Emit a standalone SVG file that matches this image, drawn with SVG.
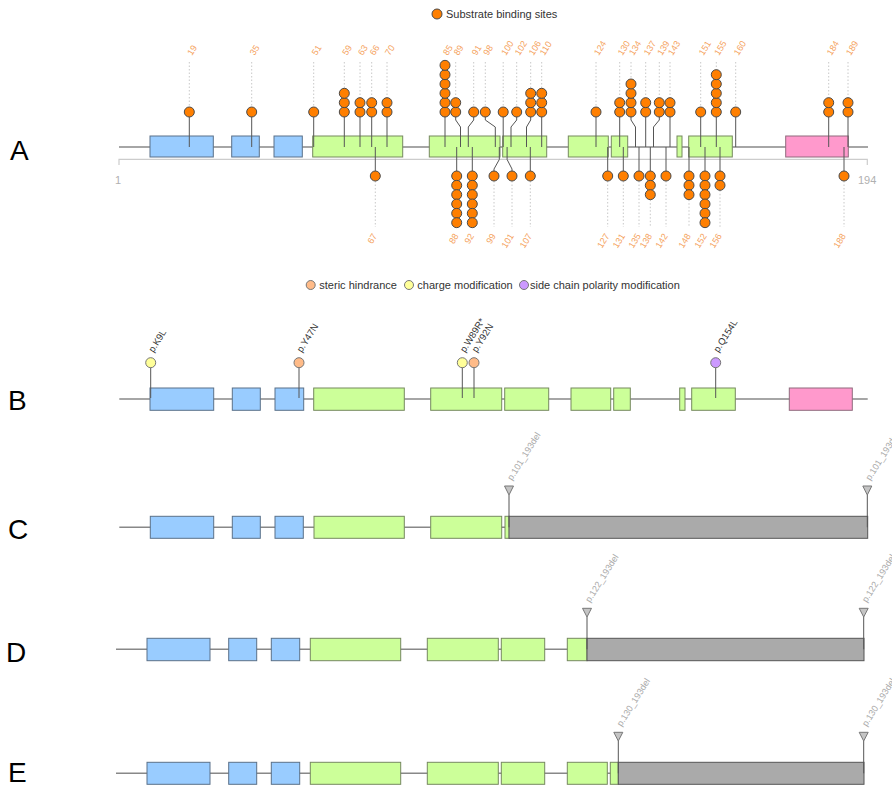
<svg xmlns="http://www.w3.org/2000/svg" width="892" height="787" viewBox="0 0 892 787">
<style>
text{font-family:"Liberation Sans",Arial,sans-serif}
.bb{stroke:#888;stroke-width:1.4;fill:none}
.ax{stroke:#ccc;stroke-width:1.2;fill:none}
.b{fill:#99ccff;stroke:#5b7189;stroke-width:1}
.g{fill:#ccff99;stroke:#76895f;stroke-width:1}
.p{fill:#ff99cc;stroke:#8f6b7d;stroke-width:1}
.x{fill:#aaaaaa;stroke:#555;stroke-width:1}
.st{stroke:#555;stroke-width:1;fill:none}
.dt{stroke:#c8c8c8;stroke-width:1;stroke-dasharray:1.5,2;fill:none}
.o{fill:#ff7f00;stroke:#4a4a4a;stroke-width:1}
.ol{fill:#f5a25d;font-size:9px}
.lg{fill:#333;font-size:11px}
.pl{fill:#333;font-size:9.5px}
.dl{fill:#aaa;font-size:9px}
.yel{fill:#ffff99;stroke:#777;stroke-width:1}
.ora{fill:#ffbb88;stroke:#777;stroke-width:1}
.pur{fill:#cc99ff;stroke:#777;stroke-width:1}
.tri{fill:#c4c4c4;stroke:#777;stroke-width:1}
.big{font-size:28px;fill:#000}
.gr{fill:#b0b0b0;font-size:11px}
</style>

<!-- panel letters -->
<g id="letters">
<text class="big" x="10" y="160">A</text>
<text class="big" x="8" y="410">B</text>
<text class="big" x="8" y="539">C</text>
<text class="big" x="6" y="662">D</text>
<text class="big" x="8" y="782">E</text>
</g>

<!-- legends -->
<g id="legendA">
<circle class="o" cx="437" cy="14" r="5"/>
<text class="lg" x="446" y="18">Substrate binding sites</text>
</g>
<g id="legendB">
<circle class="ora" cx="310.7" cy="285" r="4.5"/>
<text class="lg" x="319.3" y="289">steric hindrance</text>
<circle class="yel" cx="409" cy="285" r="4.5"/>
<text class="lg" x="417.3" y="289">charge modification</text>
<circle class="pur" cx="524" cy="285" r="4.5"/>
<text class="lg" x="530" y="289">side chain polarity modification</text>
</g>

<!-- ===== Panel A ===== -->
<g id="A-backbone">
<line class="bb" x1="119" y1="147" x2="868" y2="147"/>
<path class="ax" d="M119 165V159.3H867.3V165"/>
<text class="gr" x="115" y="184">1</text>
<text class="gr" x="858" y="184">194</text>
</g>
<g id="A-domains">
<g id="A-d1"><rect class="b" x="150" y="136" width="63.3" height="21"/></g>
<g id="A-d2"><rect class="b" x="231.7" y="136" width="27.6" height="21"/></g>
<g id="A-d3"><rect class="b" x="274" y="136" width="28.3" height="21"/></g>
<g id="A-d4"><rect class="g" x="312.7" y="136" width="90" height="21"/></g>
<g id="A-d5"><rect class="g" x="429.3" y="136" width="70.7" height="21"/></g>
<g id="A-d6"><rect class="g" x="502.7" y="136" width="44" height="21"/></g>
<g id="A-d7"><rect class="g" x="568.3" y="136" width="40" height="21"/></g>
<g id="A-d8"><rect class="g" x="611.3" y="136" width="16.4" height="21"/></g>
<g id="A-d9"><rect class="g" x="677" y="136" width="5" height="21"/></g>
<g id="A-d10"><rect class="g" x="688.7" y="136" width="43.6" height="21"/></g>
<g id="A-d11"><rect class="p" x="785.7" y="136" width="62.6" height="21"/></g>
</g>

<g id="A-connectors">
<path class="st" d="M189.3 112V147M251.7 112V147M313.7 112V147M344.3 112V147M360 112V147M371.7 112V147M387 112V147M445 112V147
M455.7 112V120L460.5 127V147M473.7 112V120L468.3 127V147M485.3 112V120L495.3 127V147M503.2 112V147M516.7 112V120L511 127V147
M530.7 112V120L526.5 127V147M541.7 112V147M596 112V147M619.7 112V147M631 112V120L635.5 127V147M645.7 112V147M659.3 112V120L653.5 127V147
M670 112V147M700.7 112V147M716.3 112V147M735.7 112V147M828.7 112V147M848 112V147"/>
<path class="st" d="M375.3 147V176M456.7 147V176M472.3 147V176M499.3 147V159.5L494 169V176M507.1 147V159.5L512 169V176M530.3 147V176
M607.7 147V176M623.3 147V176M639 147V176M650.3 147V176M666 147V176M689 147V176M705 147V176M720 147V176M844 147V176"/>
<path class="dt" d="M189.3 62V107M251.7 62V107M313.7 62V107M344.3 62V88.3M360 62V97.7M371.7 62V97.7M387 62V97.7M455.7 62V97.7
M473.7 62V107M485.3 62V107M503.2 62V107M516.7 62V107M530.7 62V88.3M541.7 62V88.3M596 62V107M619.7 62V97.7M631 62V79M645.7 62V97.7
M659.3 62V97.7M670 62V97.7M700.7 62V107M716.3 62V69.7M735.7 62V107M828.7 62V97.7M848 62V97.7"/>
<path class="dt" d="M375.3 181V227M494 181V227M512 181V227M530.3 181V227M607.7 181V227M623.3 181V227M639 181V227M650.3 199.7V227
M666 181V227M689 199.7V227M720 190.3V227M844 181V227"/>
</g>

<g id="A-sites-top">
<g id="s19"><circle class="o" cx="189.3" cy="112" r="5"/><text class="ol" transform="translate(192,56) rotate(-58)">19</text></g>
<g id="s35"><circle class="o" cx="251.7" cy="112" r="5"/><text class="ol" transform="translate(254.5,56) rotate(-58)">35</text></g>
<g id="s51"><circle class="o" cx="313.7" cy="112" r="5"/><text class="ol" transform="translate(316.5,56) rotate(-58)">51</text></g>
<g id="s59"><circle class="o" cx="344.3" cy="112" r="5"/><circle class="o" cx="344.3" cy="102.67" r="5"/><circle class="o" cx="344.3" cy="93.33" r="5"/><text class="ol" transform="translate(347,56) rotate(-58)">59</text></g>
<g id="s63"><circle class="o" cx="360" cy="112" r="5"/><circle class="o" cx="360" cy="102.67" r="5"/><text class="ol" transform="translate(362.8,56) rotate(-58)">63</text></g>
<g id="s66"><circle class="o" cx="371.7" cy="112" r="5"/><circle class="o" cx="371.7" cy="102.67" r="5"/><text class="ol" transform="translate(374.5,56) rotate(-58)">66</text></g>
<g id="s70"><circle class="o" cx="387" cy="112" r="5"/><circle class="o" cx="387" cy="102.67" r="5"/><text class="ol" transform="translate(389.8,56) rotate(-58)">70</text></g>
<g id="s85"><circle class="o" cx="445" cy="112" r="5"/><circle class="o" cx="445" cy="102.67" r="5"/><circle class="o" cx="445" cy="93.33" r="5"/><circle class="o" cx="445" cy="84" r="5"/><circle class="o" cx="445" cy="74.67" r="5"/><circle class="o" cx="445" cy="65.33" r="5"/><text class="ol" transform="translate(447.8,56) rotate(-58)">85</text></g>
<g id="s89"><circle class="o" cx="455.7" cy="112" r="5"/><circle class="o" cx="455.7" cy="102.67" r="5"/><text class="ol" transform="translate(458.5,56) rotate(-58)">89</text></g>
<g id="s91"><circle class="o" cx="473.7" cy="112" r="5"/><text class="ol" transform="translate(476.5,56) rotate(-58)">91</text></g>
<g id="s98"><circle class="o" cx="485.3" cy="112" r="5"/><text class="ol" transform="translate(488,56) rotate(-58)">98</text></g>
<g id="s100"><circle class="o" cx="503.2" cy="112" r="5"/><text class="ol" transform="translate(506,56) rotate(-58)">100</text></g>
<g id="s102"><circle class="o" cx="516.7" cy="112" r="5"/><text class="ol" transform="translate(519.5,56) rotate(-58)">102</text></g>
<g id="s106"><circle class="o" cx="530.7" cy="112" r="5"/><circle class="o" cx="530.7" cy="102.67" r="5"/><circle class="o" cx="530.7" cy="93.33" r="5"/><text class="ol" transform="translate(533.5,56) rotate(-58)">106</text></g>
<g id="s110"><circle class="o" cx="541.7" cy="112" r="5"/><circle class="o" cx="541.7" cy="102.67" r="5"/><circle class="o" cx="541.7" cy="93.33" r="5"/><text class="ol" transform="translate(544.5,56) rotate(-58)">110</text></g>
<g id="s124"><circle class="o" cx="596" cy="112" r="5"/><text class="ol" transform="translate(598.8,56) rotate(-58)">124</text></g>
<g id="s130"><circle class="o" cx="619.7" cy="112" r="5"/><circle class="o" cx="619.7" cy="102.67" r="5"/><text class="ol" transform="translate(622.5,56) rotate(-58)">130</text></g>
<g id="s134"><circle class="o" cx="631" cy="112" r="5"/><circle class="o" cx="631" cy="102.67" r="5"/><circle class="o" cx="631" cy="93.33" r="5"/><circle class="o" cx="631" cy="84" r="5"/><text class="ol" transform="translate(633.8,56) rotate(-58)">134</text></g>
<g id="s137"><circle class="o" cx="645.7" cy="112" r="5"/><circle class="o" cx="645.7" cy="102.67" r="5"/><text class="ol" transform="translate(648.5,56) rotate(-58)">137</text></g>
<g id="s139"><circle class="o" cx="659.3" cy="112" r="5"/><circle class="o" cx="659.3" cy="102.67" r="5"/><text class="ol" transform="translate(662,56) rotate(-58)">139</text></g>
<g id="s143"><circle class="o" cx="670" cy="112" r="5"/><circle class="o" cx="670" cy="102.67" r="5"/><text class="ol" transform="translate(672.8,56) rotate(-58)">143</text></g>
<g id="s151"><circle class="o" cx="700.7" cy="112" r="5"/><text class="ol" transform="translate(703.5,56) rotate(-58)">151</text></g>
<g id="s155"><circle class="o" cx="716.3" cy="112" r="5"/><circle class="o" cx="716.3" cy="102.67" r="5"/><circle class="o" cx="716.3" cy="93.33" r="5"/><circle class="o" cx="716.3" cy="84" r="5"/><circle class="o" cx="716.3" cy="74.67" r="5"/><text class="ol" transform="translate(719,56) rotate(-58)">155</text></g>
<g id="s160"><circle class="o" cx="735.7" cy="112" r="5"/><text class="ol" transform="translate(738.5,56) rotate(-58)">160</text></g>
<g id="s184"><circle class="o" cx="828.7" cy="112" r="5"/><circle class="o" cx="828.7" cy="102.67" r="5"/><text class="ol" transform="translate(831.5,56) rotate(-58)">184</text></g>
<g id="s189"><circle class="o" cx="848" cy="112" r="5"/><circle class="o" cx="848" cy="102.67" r="5"/><text class="ol" transform="translate(850.8,56) rotate(-58)">189</text></g>
</g>

<g id="A-sites-bottom">
<g id="s67"><circle class="o" cx="375.3" cy="176" r="5"/><text class="ol" text-anchor="end" transform="translate(377.5,236) rotate(-58)">67</text></g>
<g id="s88"><circle class="o" cx="456.7" cy="176" r="5"/><circle class="o" cx="456.7" cy="185.33" r="5"/><circle class="o" cx="456.7" cy="194.67" r="5"/><circle class="o" cx="456.7" cy="204" r="5"/><circle class="o" cx="456.7" cy="213.33" r="5"/><circle class="o" cx="456.7" cy="222.67" r="5"/><text class="ol" text-anchor="end" transform="translate(459,236) rotate(-58)">88</text></g>
<g id="s92"><circle class="o" cx="472.3" cy="176" r="5"/><circle class="o" cx="472.3" cy="185.33" r="5"/><circle class="o" cx="472.3" cy="194.67" r="5"/><circle class="o" cx="472.3" cy="204" r="5"/><circle class="o" cx="472.3" cy="213.33" r="5"/><circle class="o" cx="472.3" cy="222.67" r="5"/><text class="ol" text-anchor="end" transform="translate(474.5,236) rotate(-58)">92</text></g>
<g id="s99"><circle class="o" cx="494" cy="176" r="5"/><text class="ol" text-anchor="end" transform="translate(496.2,236) rotate(-58)">99</text></g>
<g id="s101"><circle class="o" cx="512" cy="176" r="5"/><text class="ol" text-anchor="end" transform="translate(514.2,236) rotate(-58)">101</text></g>
<g id="s107"><circle class="o" cx="530.3" cy="176" r="5"/><text class="ol" text-anchor="end" transform="translate(532.5,236) rotate(-58)">107</text></g>
<g id="s127"><circle class="o" cx="607.7" cy="176" r="5"/><text class="ol" text-anchor="end" transform="translate(609.9,236) rotate(-58)">127</text></g>
<g id="s131"><circle class="o" cx="623.3" cy="176" r="5"/><text class="ol" text-anchor="end" transform="translate(625.5,236) rotate(-58)">131</text></g>
<g id="s135"><circle class="o" cx="639" cy="176" r="5"/><text class="ol" text-anchor="end" transform="translate(641.2,236) rotate(-58)">135</text></g>
<g id="s138"><circle class="o" cx="650.3" cy="176" r="5"/><circle class="o" cx="650.3" cy="185.33" r="5"/><circle class="o" cx="650.3" cy="194.67" r="5"/><text class="ol" text-anchor="end" transform="translate(652.5,236) rotate(-58)">138</text></g>
<g id="s142"><circle class="o" cx="666" cy="176" r="5"/><text class="ol" text-anchor="end" transform="translate(668.2,236) rotate(-58)">142</text></g>
<g id="s148"><circle class="o" cx="689" cy="176" r="5"/><circle class="o" cx="689" cy="185.33" r="5"/><circle class="o" cx="689" cy="194.67" r="5"/><text class="ol" text-anchor="end" transform="translate(691.2,236) rotate(-58)">148</text></g>
<g id="s152"><circle class="o" cx="705" cy="176" r="5"/><circle class="o" cx="705" cy="185.33" r="5"/><circle class="o" cx="705" cy="194.67" r="5"/><circle class="o" cx="705" cy="204" r="5"/><circle class="o" cx="705" cy="213.33" r="5"/><circle class="o" cx="705" cy="222.67" r="5"/><text class="ol" text-anchor="end" transform="translate(707.2,236) rotate(-58)">152</text></g>
<g id="s156"><circle class="o" cx="720" cy="176" r="5"/><circle class="o" cx="720" cy="185.33" r="5"/><text class="ol" text-anchor="end" transform="translate(722.2,236) rotate(-58)">156</text></g>
<g id="s188"><circle class="o" cx="844" cy="176" r="5"/><text class="ol" text-anchor="end" transform="translate(846.2,236) rotate(-58)">188</text></g>
</g>

<!-- ===== Panel B ===== -->
<g id="B-backbone"><line class="bb" x1="119.3" y1="399" x2="867.7" y2="399"/></g>
<g id="B-domains">
<g id="B-d1"><rect class="b" x="150" y="388" width="63.7" height="22.3"/></g>
<g id="B-d2"><rect class="b" x="232.3" y="388" width="28" height="22.3"/></g>
<g id="B-d3"><rect class="b" x="275" y="388" width="28.7" height="22.3"/></g>
<g id="B-d4"><rect class="g" x="313.7" y="388" width="90.6" height="22.3"/></g>
<g id="B-d5"><rect class="g" x="430.7" y="388" width="71" height="22.3"/></g>
<g id="B-d6"><rect class="g" x="504.7" y="388" width="44" height="22.3"/></g>
<g id="B-d7"><rect class="g" x="571" y="388" width="39.7" height="22.3"/></g>
<g id="B-d8"><rect class="g" x="613.7" y="388" width="16.6" height="22.3"/></g>
<g id="B-d9"><rect class="g" x="679.7" y="388" width="5.3" height="22.3"/></g>
<g id="B-d10"><rect class="g" x="691.7" y="388" width="43.6" height="22.3"/></g>
<g id="B-d11"><rect class="p" x="789.3" y="388" width="63" height="22.3"/></g>
</g>
<g id="B-connectors">
<path class="st" d="M150.7 362.7V398M299 362.7V398M462.3 362.7V398M474 362.7V398M715.7 362.7V398"/>
</g>
<g id="B-variants">
<g id="vK9L"><circle class="yel" cx="150.7" cy="362.7" r="5"/><text class="pl" transform="translate(153.5,353) rotate(-58)">p.K9L</text></g>
<g id="vY47N"><circle class="ora" cx="299" cy="362.7" r="5"/><text class="pl" transform="translate(301.8,353) rotate(-58)">p.Y47N</text></g>
<g id="vW89R"><circle class="yel" cx="462.3" cy="362.7" r="5"/><text class="pl" transform="translate(465,353) rotate(-58)">p.W89R*</text></g>
<g id="vY92N"><circle class="ora" cx="474" cy="362.7" r="5"/><text class="pl" transform="translate(476.8,353) rotate(-58)">p.Y92N</text></g>
<g id="vQ154L"><circle class="pur" cx="715.7" cy="362.7" r="5"/><text class="pl" transform="translate(718.5,353) rotate(-58)">p.Q154L</text></g>
</g>

<!-- ===== Panel C ===== -->
<g id="C-backbone"><line class="bb" x1="119.3" y1="527.3" x2="509" y2="527.3"/></g>
<g id="C-domains">
<g id="C-d1"><rect class="b" x="150.3" y="516.3" width="63.4" height="22"/></g>
<g id="C-d2"><rect class="b" x="232.3" y="516.3" width="28" height="22"/></g>
<g id="C-d3"><rect class="b" x="275" y="516.3" width="28.3" height="22"/></g>
<g id="C-d4"><rect class="g" x="314" y="516.3" width="90.3" height="22"/></g>
<g id="C-d5"><rect class="g" x="430.7" y="516.3" width="71" height="22"/></g>
<g id="C-d6"><rect class="g" x="505" y="516.3" width="4.3" height="22"/></g>
<g id="C-del"><rect class="x" x="509" y="516.3" width="358.7" height="22"/></g>
</g>
<g id="C-connectors">
<path class="st" d="M509 495V527.3M867.3 495V527.3"/>
</g>
<g id="C-markers">
<g id="C-m1"><polygon class="tri" points="504.5,486 513.5,486 509,495"/><text class="dl" transform="translate(512,481) rotate(-58)">p.101_193del</text></g>
<g id="C-m2"><polygon class="tri" points="862.8,486 871.8,486 867.3,495"/><text class="dl" transform="translate(870.3,481) rotate(-58)">p.101_193del</text></g>
</g>

<!-- ===== Panel D ===== -->
<g id="D-backbone"><line class="bb" x1="116" y1="649.3" x2="587" y2="649.3"/></g>
<g id="D-domains">
<g id="D-d1"><rect class="b" x="147" y="638.3" width="63" height="22.4"/></g>
<g id="D-d2"><rect class="b" x="228.7" y="638.3" width="28" height="22.4"/></g>
<g id="D-d3"><rect class="b" x="271.3" y="638.3" width="28.4" height="22.4"/></g>
<g id="D-d4"><rect class="g" x="310.3" y="638.3" width="90.4" height="22.4"/></g>
<g id="D-d5"><rect class="g" x="427.3" y="638.3" width="71" height="22.4"/></g>
<g id="D-d6"><rect class="g" x="501.3" y="638.3" width="43.4" height="22.4"/></g>
<g id="D-d7"><rect class="g" x="567.3" y="638.3" width="19.7" height="22.4"/></g>
<g id="D-del"><rect class="x" x="587" y="638.3" width="277" height="22.4"/></g>
</g>
<g id="D-connectors">
<path class="st" d="M587 616.7V649.3M863.7 616.7V649.3"/>
</g>
<g id="D-markers">
<g id="D-m1"><polygon class="tri" points="582.5,608.3 591.5,608.3 587,617"/><text class="dl" transform="translate(590,603) rotate(-58)">p.122_193del</text></g>
<g id="D-m2"><polygon class="tri" points="859.2,608.3 868.2,608.3 863.7,617"/><text class="dl" transform="translate(866.7,603) rotate(-58)">p.122_193del</text></g>
</g>

<!-- ===== Panel E ===== -->
<g id="E-backbone"><line class="bb" x1="116" y1="773.3" x2="618.3" y2="773.3"/></g>
<g id="E-domains">
<g id="E-d1"><rect class="b" x="147" y="762.3" width="63" height="22"/></g>
<g id="E-d2"><rect class="b" x="228.7" y="762.3" width="28" height="22"/></g>
<g id="E-d3"><rect class="b" x="271.3" y="762.3" width="28.4" height="22"/></g>
<g id="E-d4"><rect class="g" x="310.3" y="762.3" width="90.4" height="22"/></g>
<g id="E-d5"><rect class="g" x="427.3" y="762.3" width="71" height="22"/></g>
<g id="E-d6"><rect class="g" x="501.3" y="762.3" width="43.4" height="22"/></g>
<g id="E-d7"><rect class="g" x="567.3" y="762.3" width="40" height="22"/></g>
<g id="E-d8"><rect class="g" x="610.3" y="762.3" width="8" height="22"/></g>
<g id="E-del"><rect class="x" x="618.3" y="762.3" width="245.7" height="22"/></g>
</g>
<g id="E-connectors">
<path class="st" d="M618.3 740.7V773.3M863.7 740.7V773.3"/>
</g>
<g id="E-markers">
<g id="E-m1"><polygon class="tri" points="613.8,732.3 622.8,732.3 618.3,741"/><text class="dl" transform="translate(621.5,727) rotate(-58)">p.130_193del</text></g>
<g id="E-m2"><polygon class="tri" points="859.2,732.3 868.2,732.3 863.7,741"/><text class="dl" transform="translate(866.7,727) rotate(-58)">p.130_193del</text></g>
</g>
</svg>
